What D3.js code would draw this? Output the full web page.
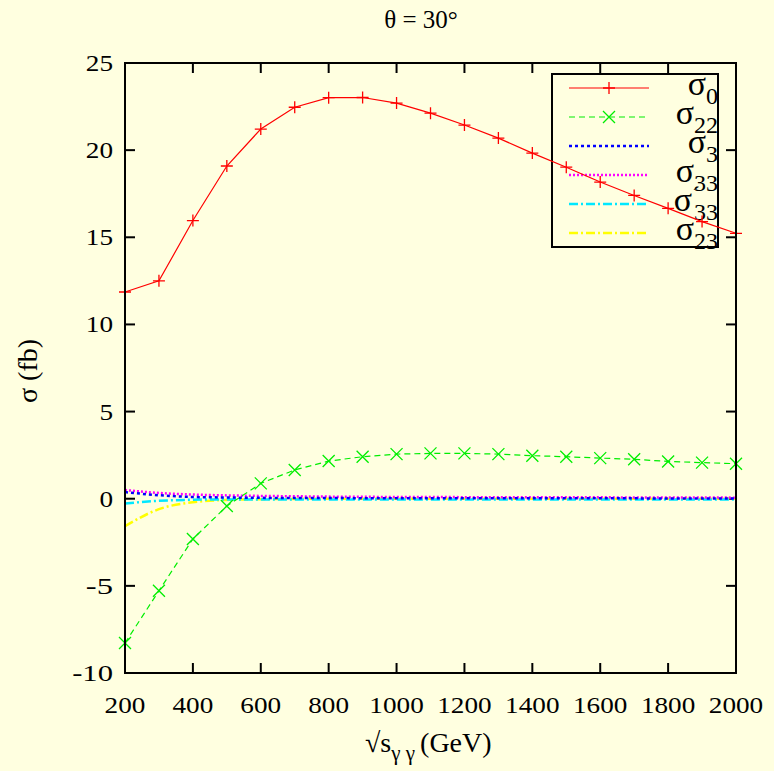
<!DOCTYPE html>
<html><head><meta charset="utf-8">
<script src="https://cdn.jsdelivr.net/npm/d3@7"></script>
<style>
html,body{margin:0;padding:0;background:#ffffe0;}
text{font-family:"Liberation Serif","Times New Roman",serif;fill:#000;}
</style></head>
<body><svg id="c" width="774" height="771"></svg>
<script>
const energies = [200,300,400,500,600,700,800,900,1000,1100,1200,1300,1400,1500,1600,1700,1800,1900,2000];
const sigma0  = [11.86,12.5,15.96,19.09,21.21,22.46,23.01,23.02,22.70,22.12,21.44,20.69,19.83,19.02,18.17,17.40,16.66,15.90,15.23];
const sigma22 = [-8.28,-5.28,-2.31,-0.42,0.88,1.65,2.16,2.41,2.56,2.60,2.60,2.56,2.47,2.41,2.33,2.26,2.14,2.07,2.01];
const sigma3  = [0.38,0.20,0.10,0.07,0.05,0.04,0.04,0.03,0.03,0.03,0.02,0.02,0.02,0.02,0.02,0.02,0.01,0.01,0.01];
const sigma33 = [0.50,0.33,0.24,0.19,0.16,0.14,0.12,0.11,0.10,0.10,0.09,0.09,0.08,0.08,0.08,0.07,0.07,0.07,0.06];
const sigma33p= [-0.27,-0.12,-0.06,-0.04,-0.04,-0.04,-0.04,-0.04,-0.05,-0.05,-0.05,-0.05,-0.05,-0.05,-0.05,-0.05,-0.05,-0.05,-0.05];
const sigma23 = [-1.57,-0.60,-0.20,-0.07,-0.03,-0.01,0.0,0.0,0.0,0.0,0.0,0.0,0.0,0.0,0.0,0.0,0.0,0.0,0.0];
const xTicks = [200,400,600,800,1000,1200,1400,1600,1800,2000];
const yTicks = [-10,-5,0,5,10,15,20,25];

const svg = d3.select("#c");
const L=125,R=736,T=63,B=673;
const x = d3.scaleLinear().domain([200,2000]).range([L,R]);
const y = d3.scaleLinear().domain([-10,25]).range([B,T]);

// ticks (inward, mirrored)
const tk = svg.append("g").attr("stroke","#000").attr("stroke-width",2);
xTicks.forEach(v=>{
  tk.append("line").attr("x1",x(v)).attr("x2",x(v)).attr("y1",B).attr("y2",B-10);
  tk.append("line").attr("x1",x(v)).attr("x2",x(v)).attr("y1",T).attr("y2",T+10);
});
yTicks.forEach(v=>{
  tk.append("line").attr("x1",L).attr("x2",L+10).attr("y1",y(v)).attr("y2",y(v));
  tk.append("line").attr("x1",R).attr("x2",R-10).attr("y1",y(v)).attr("y2",y(v));
});
xTicks.forEach(v=>{
  svg.append("text").attr("x",x(v)).attr("y",B+40).attr("text-anchor","middle")
    .attr("font-size",23).attr("textLength",String(v).length*13.6).attr("lengthAdjust","spacingAndGlyphs").text(v);
});
yTicks.forEach(v=>{
  const s=String(v);
  svg.append("text").attr("x",L-12).attr("y",y(v)+8).attr("text-anchor","end")
    .attr("font-size",23).attr("textLength",s.length*13.6).attr("lengthAdjust","spacingAndGlyphs").text(s);
});

// title & axis labels
svg.append("text").attr("x",421).attr("y",28).attr("text-anchor","middle").attr("font-size",25).text("θ = 30°");
svg.append("text").attr("transform","translate(37,371) rotate(-90)").attr("text-anchor","middle").attr("font-size",28).text("σ (fb)");
const xl = svg.append("text").attr("x",365).attr("y",752).attr("font-size",28);
xl.append("tspan").text("√s");
xl.append("tspan").attr("font-size",21).attr("dy",8).text("γ γ");
xl.append("tspan").attr("dy",-8).attr("dx",5).text("(GeV)");

// legend
const series = [
  {name:"0", data:sigma0, color:"#ff0000", dash:null, w:1.2, mark:"plus"},
  {name:"22", data:sigma22, color:"#00ee00", dash:"6,4", w:1.2, mark:"cross"},
  {name:"3", data:sigma3, color:"#0000ff", dash:"3,3", w:2.5, mark:null},
  {name:"33", data:sigma33, color:"#ff00ff", dash:"2,2", w:2.5, mark:null},
  {name:"33p", data:sigma33p, color:"#00e8ff", dash:"9,3,2,3", w:2.5, mark:null},
  {name:"23", data:sigma23, color:"#ffff00", dash:"9,3,2,3", w:2.5, mark:null}
];
const lg = svg.append("g");
lg.append("rect").attr("x",552).attr("y",74).attr("width",166).attr("height",173)
  .attr("fill","none").attr("stroke","#000").attr("stroke-width",2);
function marker(g,mark,cx,cy,color){
  if(mark==="plus"){
    g.append("path").attr("d",`M${cx-6},${cy}H${cx+6}M${cx},${cy-6}V${cy+6}`).attr("stroke",color).attr("stroke-width",1.3).attr("fill","none");
  } else if(mark==="cross"){
    g.append("path").attr("d",`M${cx-6},${cy-6}L${cx+6},${cy+6}M${cx-6},${cy+6}L${cx+6},${cy-6}`).attr("stroke",color).attr("stroke-width",1.3).attr("fill","none");
  }
}
series.forEach((s,i)=>{
  const ly = 88 + i*29;
  lg.append("line").attr("x1",569).attr("x2",649).attr("y1",ly).attr("y2",ly)
    .attr("stroke",s.color).attr("stroke-width",s.w).attr("stroke-dasharray",s.dash);
  marker(lg,s.mark,609,ly,s.color);
  const t = lg.append("text").attr("x",718).attr("y",ly+7).attr("text-anchor","end").attr("font-size",34);
  t.append("tspan").text("σ");
  if(s.name==="33p"){
    t.append("tspan").attr("font-size",24).attr("dy",-8).text("´");
    t.append("tspan").attr("font-size",24).attr("dy",17).attr("dx",-6).text("33");
  } else {
    t.append("tspan").attr("font-size",24).attr("dy",9).text(s.name);
  }
});

// curves
const lineStraight = d3.line().x((d,i)=>x(energies[i])).y(d=>y(d));
const lineSmooth = d3.line().x((d,i)=>x(energies[i])).y(d=>y(d)).curve(d3.curveMonotoneX);
const cg = svg.append("g");
series.slice().reverse().forEach(s=>{
  cg.append("path").attr("d",(s.mark?lineStraight:lineSmooth)(s.data)).attr("fill","none").attr("stroke",s.color)
    .attr("stroke-width",s.w).attr("stroke-dasharray",s.dash);
});
series.forEach(s=>{
  if(s.mark) s.data.forEach((d,i)=>marker(cg,s.mark,x(energies[i]),y(d),s.color));
});

// frame
svg.append("rect").attr("x",L).attr("y",T).attr("width",R-L).attr("height",B-T)
  .attr("fill","none").attr("stroke","#000").attr("stroke-width",2);
</script></body></html>
